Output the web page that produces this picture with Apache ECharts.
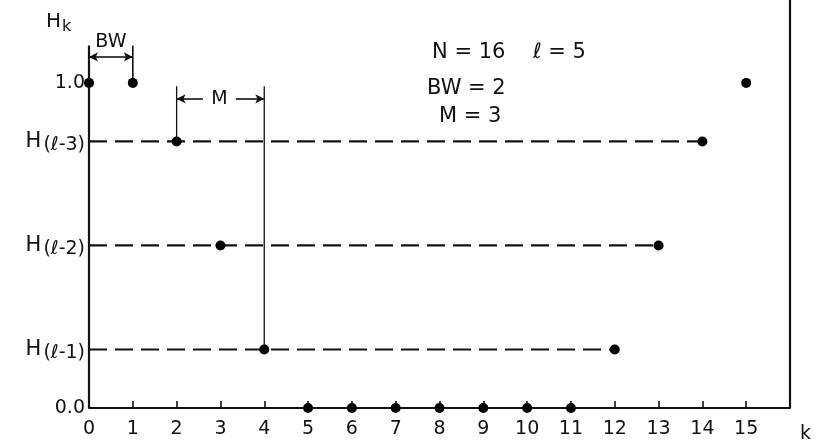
<!DOCTYPE html>
<html>
<head>
<meta charset="utf-8">
<script src="https://cdn.jsdelivr.net/npm/echarts@6/dist/echarts.min.js"></script>
<style>
  html, body { margin: 0; padding: 0; background: #fff; }
  #chart { width: 814px; height: 445px; }
</style>
</head>
<body>
<div id="chart"></div>
<script>
// Sample index k and coefficient magnitudes H_k
const kTicks = [0, 1, 2, 3, 4, 5, 6, 7, 8, 9, 10, 11, 12, 13, 14, 15];
const hk = [1.0, 1.0, 0.82, 0.50, 0.18, 0, 0, 0, 0, 0, 0, 0, 0.18, 0.50, 0.82, 1.0];

// Intermediate levels H(l-3), H(l-2), H(l-1) and where their dashed guides end
const levelValues = [0.82, 0.50, 0.18];
const levelNames = ['ℓ-3', 'ℓ-2', 'ℓ-1'];
const levelEnds = [14, 13, 12];

const yTickValues = [0, 0.18, 0.50, 0.82, 1.0];

// Parameters printed in the annotation block
const N = 16, ELL = 5, BW = 2, M = 3;

// Heights of the BW and M dimension brackets (in H units)
const bwTop = 1.115, bwArrow = 1.08;
const mTop = 0.99, mArrow = 0.951;

const INK = '#111';
const FONT = 'DejaVu Sans';

function segment(p0, p1, style) {
  return {
    type: 'line', data: [p0, p1], symbol: 'none', silent: true,
    lineStyle: Object.assign({ color: INK, width: 1.5, type: 'solid', opacity: 1 }, style || {}),
    z: 2
  };
}

const series = [];

// dashed level guides from the vertical axis
levelValues.forEach((v, i) => {
  series.push(segment([0, v], [levelEnds[i], v], { width: 2.2, type: [18, 8] }));
});

// vertical axis (extends up to the BW bracket) and right border
series.push(segment([0, 0], [0, bwTop], { width: 2.2 }));
series.push(segment([16, 0], [16, 1.255], { width: 2.2 }));

// bracket stems
series.push(segment([1, hk[1]], [1, bwTop], { width: 1.6 }));
series.push(segment([2, hk[2]], [2, mTop], { width: 1.3 }));
series.push(segment([4, hk[4]], [4, mTop], { width: 1.3 }));

// dimension arrows
series.push({
  type: 'line', data: [], silent: true,
  markLine: {
    silent: true, animation: false,
    symbol: ['none', 'arrow'], symbolSize: [7, 9],
    label: { show: false },
    lineStyle: { color: INK, width: 1.6, type: 'solid', opacity: 1 },
    itemStyle: { color: INK },
    data: [
      [{ coord: [0.5, bwArrow] }, { coord: [0, bwArrow] }],
      [{ coord: [0.5, bwArrow] }, { coord: [1, bwArrow] }],
      [{ coord: [2.6, mArrow] }, { coord: [2, mArrow] }],
      [{ coord: [3.35, mArrow] }, { coord: [4, mArrow] }]
    ]
  }
});

// bracket labels
series.push({
  type: 'scatter', symbolSize: 0, silent: true,
  itemStyle: { opacity: 1 },
  data: [
    { name: 'BW', value: [0.5, 1.125] },
    { name: 'M', value: [2.98, mArrow] }
  ],
  label: {
    show: true, position: 'inside', formatter: '{b}', opacity: 1,
    color: INK, fontFamily: FONT, fontSize: 19
  }
});

// coefficient dots
series.push({
  type: 'scatter', symbol: 'circle', symbolSize: 10,
  data: hk.map((v, k) => [k, v]),
  itemStyle: { color: '#000', opacity: 1 }, z: 5
});

const chart = echarts.init(document.getElementById('chart'), null, { renderer: 'canvas' });
chart.setOption({
  animation: false,
  backgroundColor: '#fff',
  grid: { left: 89, right: 24, top: 0, bottom: 37, containLabel: false },
  xAxis: {
    type: 'value', min: 0, max: 16,
    axisLine: { show: true, onZero: false, lineStyle: { color: INK, width: 2.2 } },
    axisTick: { show: true, inside: true, length: 7, customValues: kTicks, lineStyle: { color: INK, width: 1.6 } },
    axisLabel: { customValues: kTicks, color: INK, fontFamily: FONT, fontSize: 19, margin: 12 },
    splitLine: { show: false }
  },
  yAxis: {
    type: 'value', min: 0, max: 1.255,
    axisLine: { show: false },
    axisTick: { show: false },
    splitLine: { show: false },
    axisLabel: {
      customValues: yTickValues, margin: 4, color: INK, fontFamily: FONT, fontSize: 19,
      formatter: function (v) {
        if (v === 0) return '0.0';
        if (v === 1) return '1.0';
        const i = levelValues.indexOf(v);
        return '{h|H}{s|(' + levelNames[i] + ')}';
      },
      rich: {
        h: { fontFamily: FONT, fontSize: 21, color: INK },
        s: { fontFamily: FONT, fontSize: 19, color: INK, padding: [7, 0, 0, 2] }
      }
    }
  },
  graphic: [
    {
      type: 'text', left: 46, top: 12,
      style: {
        text: '{h|H}{s|k}', rich: {
          h: { fontFamily: FONT, fontSize: 20, fill: INK },
          s: { fontFamily: FONT, fontSize: 16, fill: INK, padding: [9, 0, 0, 1] }
        }
      }
    },
    {
      type: 'text', left: 800, top: 425,
      style: { text: 'k', fontFamily: FONT, fontSize: 19, fill: INK }
    },
    {
      type: 'text', left: 432, top: 42,
      style: { text: 'N = ' + N, fontFamily: FONT, fontSize: 21, fill: INK }
    },
    {
      type: 'text', left: 533, top: 42,
      style: { text: 'ℓ = ' + ELL, fontFamily: FONT, fontSize: 21, fill: INK }
    },
    {
      type: 'text', left: 427, top: 78,
      style: { text: 'BW = ' + BW, fontFamily: FONT, fontSize: 21, fill: INK }
    },
    {
      type: 'text', left: 439, top: 106,
      style: { text: 'M = ' + M, fontFamily: FONT, fontSize: 21, fill: INK }
    }
  ],
  series: series
});
</script>
</body>
</html>
